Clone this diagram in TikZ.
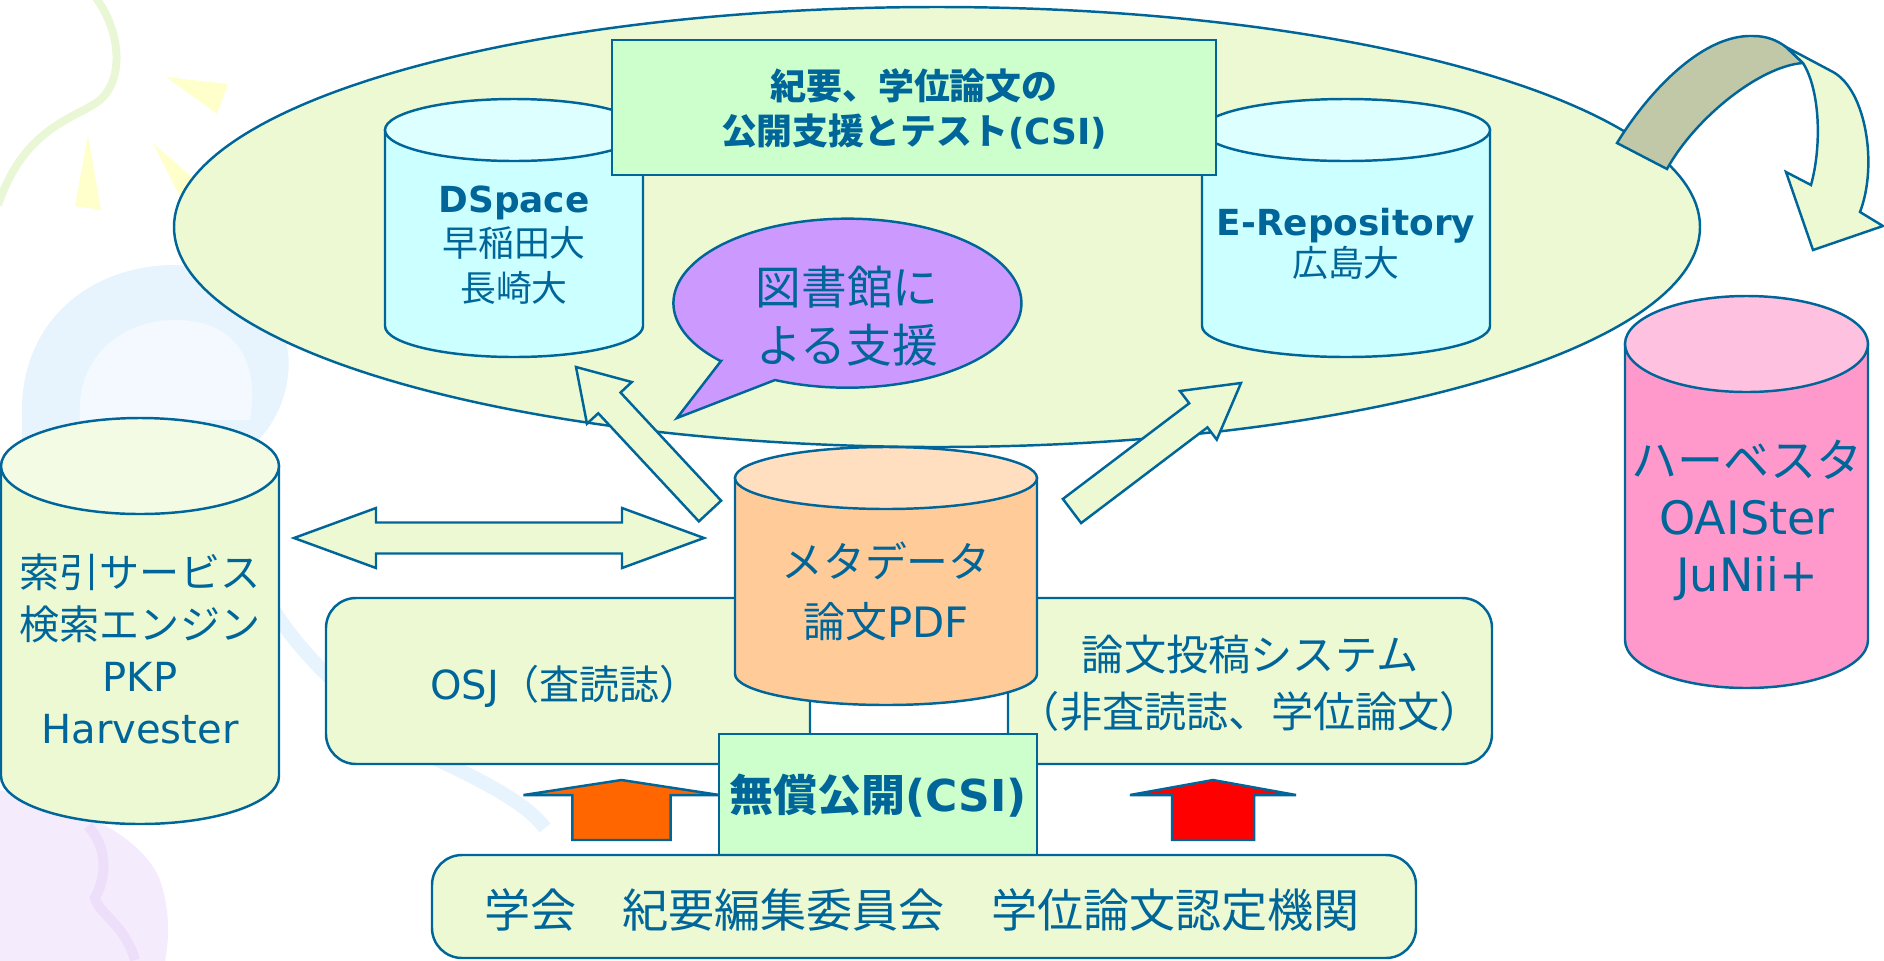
\documentclass[tikz,border=0pt]{standalone}
\usepackage{fontspec}
\setmainfont{Noto Sans CJK JP}
\newfontfamily\lat{DejaVu Sans}
\usetikzlibrary{calc}

\definecolor{ink}{RGB}{0,102,153}
\definecolor{leaf}{RGB}{236,249,211}
\definecolor{leaftop}{RGB}{243,251,229}
\definecolor{mint}{RGB}{204,255,204}
\definecolor{aqua}{RGB}{204,255,255}
\definecolor{aquatop}{RGB}{222,255,255}
\definecolor{lilac}{RGB}{204,153,255}
\definecolor{peach}{RGB}{255,204,153}
\definecolor{peachtop}{RGB}{255,223,192}
\definecolor{rose}{RGB}{255,153,204}
\definecolor{rosetop}{RGB}{255,193,224}
\definecolor{sage}{RGB}{192,200,168}
\definecolor{orangeup}{RGB}{255,102,0}
\definecolor{redup}{RGB}{255,0,0}
\definecolor{curl}{RGB}{234,247,214}
\definecolor{sun}{RGB}{255,255,204}
\definecolor{mist}{RGB}{232,244,253}
\definecolor{mistin}{RGB}{243,249,254}
\definecolor{plum}{RGB}{244,236,252}
\definecolor{plumdk}{RGB}{237,222,250}

\newcommand\sz[2]{\fontsize{#1pt}{#2pt}\selectfont}
% left, right, top, bottom, end radius, body colour, lid colour
\newcommand\drum[7]{%
  \draw[fill=#6] (#1,#3+#5) -- (#1,#4-#5)
    arc[start angle=180,end angle=0,x radius={(#2-#1)/2},y radius=#5]
    -- (#2,#3+#5) -- cycle;
  \draw[fill=#7] ({(#1+#2)/2},#3+#5) ellipse[x radius={(#2-#1)/2},y radius=#5];}
% fill, tail, tip, half shaft, half head, head length
\newcommand\fatarrow[6]{%
  \coordinate (#2head) at ($(#3)!#6!(#2)$);
  \draw[fill=#1] ($(#2)!#4!90:(#3)$) -- ($(#2head)!#4!90:(#3)$)
    -- ($(#2head)!#5!90:(#3)$) -- (#3) -- ($(#2head)!#5!-90:(#3)$)
    -- ($(#2head)!#4!-90:(#3)$) -- ($(#2)!#4!-90:(#3)$) -- cycle;}

\tikzset{lbl/.style={text=ink,align=center,inner sep=0pt}}

\begin{document}
\begin{tikzpicture}[x=0.01cm,y=-0.01cm,line width=0.7pt,color=ink]
\useasboundingbox (0,0) rectangle (1884,960);

\draw[curl,line width=0.08cm] (96,-2) .. controls (120,30) and (125,78) .. (100,100) .. controls (78,118) and (25,125) .. (-2,205);
\fill[sun] (166,77) -- (228,84) -- (217,114) -- cycle;
\fill[sun] (88,135) -- (101,210) -- (75,206) -- cycle;
\fill[sun] (153,143) -- (192,177) -- (180,197) -- cycle;
\fill[mist] (22,414) .. controls (20,330) and (80,268) .. (170,265) .. controls (250,265) and (295,320) .. (288,375) .. controls (282,430) and (240,470) .. (180,480) -- (22,480) -- cycle;
\fill[mistin] (80,420) .. controls (75,350) and (130,318) .. (180,320) .. controls (235,322) and (260,360) .. (250,420) -- cycle;
\draw[mist,line width=0.14cm] (268,600) .. controls (300,660) and (390,740) .. (455,768) .. controls (500,790) and (530,808) .. (545,828);
\fill[plum] (-2,790) .. controls (60,800) and (140,830) .. (160,880) .. controls (172,915) and (168,945) .. (165,962) -- (-2,962) -- cycle;
\draw[plumdk,line width=0.1cm] (88,826) .. controls (110,850) and (105,880) .. (95,898) .. controls (100,915) and (125,925) .. (135,960);

\draw[fill=leaf] (937,227) ellipse[x radius=763,y radius=220];

\draw[fill=sage] (1617,143) .. controls (1645,97) and (1700,34) .. (1753,36) .. controls (1768,36) and (1778,41) .. (1786,47) -- (1803,63) .. controls (1760,66) and (1695,118) .. (1667,169) -- cycle;
\draw[fill=leaf] (1786,47) -- (1833,72) .. controls (1866,90) and (1878,165) .. (1860,212) -- (1883,226) -- (1813,250) -- (1786,172) -- (1811,185) .. controls (1822,145) and (1820,90) .. (1803,63) -- cycle;

\drum{385}{643}{99}{357}{31}{aqua}{aquatop}
\node[lbl,font=\sz{10.2}{12.6}] (dspace) at (514,245) {{\lat\bfseries DSpace}\\早稲田大\\長崎大};
\drum{1202}{1490}{99}{357}{31}{aqua}{aquatop}
\node[lbl,font=\sz{10.2}{11.5}] (erepo) at (1346,244) {{\lat\bfseries E-Repository}\\広島大};

\draw[fill=mint] (612,40) rectangle (1216,175);
\node[lbl,font=\bfseries\sz{10.2}{12.8}] (csitop) at (914,109) {紀要、学位論文の\\公開支援とテスト{\lat(CSI)}};

\draw[fill=lilac] (721,361) -- (677,418) -- (775,380) arc[start angle=114.6,end angle=-223.2,x radius=174,y radius=84.5] -- cycle;
\node[lbl,font=\sz{13}{16.5}] (library) at (847,316) {図書館に\\よる支援};

\coordinate (dsFrom) at (710,511);
\coordinate (dsTo) at (576,367);
\fatarrow{leaf}{dsFrom}{dsTo}{0.152cm}{0.306cm}{0.49cm}
\coordinate (erFrom) at (1072,511);
\coordinate (erTo) at (1241,383);
\fatarrow{leaf}{erFrom}{erTo}{0.151cm}{0.305cm}{0.535cm}

\drum{1}{279}{418}{824}{48}{leaf}{leaftop}
\node[lbl,font=\sz{11.4}{14.8}] (index) at (140,649) {索引サービス\\検索エンジン\\{\lat PKP}\\{\lat Harvester}};

\draw[fill=leaf] (294,538) -- (376,508) -- (376,522.5) -- (622,522.5) -- (622,508) -- (704,538) -- (622,568) -- (622,553.5) -- (376,553.5) -- (376,568) -- cycle;

\draw[fill=leaf,rounded corners=0.3cm] (326,598) rectangle (810,764);
\node[lbl,font=\sz{11.4}{14}] (osj) at (565,686) {{\lat OSJ}（査読誌）};
\draw[fill=leaf,rounded corners=0.3cm] (1008,598) rectangle (1492,764);
\node[lbl,font=\sz{12}{16.2}] (submit) at (1250,683) {論文投稿システム\\（非査読誌、学位論文）};

\drum{735}{1037}{447}{705}{31}{peach}{peachtop}
\node[lbl,font=\sz{11.9}{17}] (meta) at (886,591) {メタデータ\\論文{\lat PDF}};

\draw[fill=mint] (719,734) rectangle (1037,855);
\node[lbl,font=\bfseries\sz{12.5}{15}] (free) at (878,796) {無償公開{\lat(CSI)}};

\coordinate (osjFrom) at (621.5,840);
\coordinate (osjTo) at (621.5,780);
\fatarrow{orangeup}{osjFrom}{osjTo}{0.49cm}{0.98cm}{0.15cm}
\coordinate (subFrom) at (1213,840);
\coordinate (subTo) at (1213,780);
\fatarrow{redup}{subFrom}{subTo}{0.41cm}{0.83cm}{0.15cm}

\draw[fill=leaf,rounded corners=0.3cm] (432,855) rectangle (1416,958);
\node[lbl,font=\sz{13.1}{16}] (society) at (922,910) {学会　紀要編集委員会　学位論文認定機関};

\drum{1625}{1868}{296}{688}{48}{rose}{rosetop}
\node[lbl,font=\sz{13.1}{16.2}] (harvest) at (1747,520) {ハーベスタ\\{\lat OAISter}\\{\lat JuNii+}};
\end{tikzpicture}
\end{document}
